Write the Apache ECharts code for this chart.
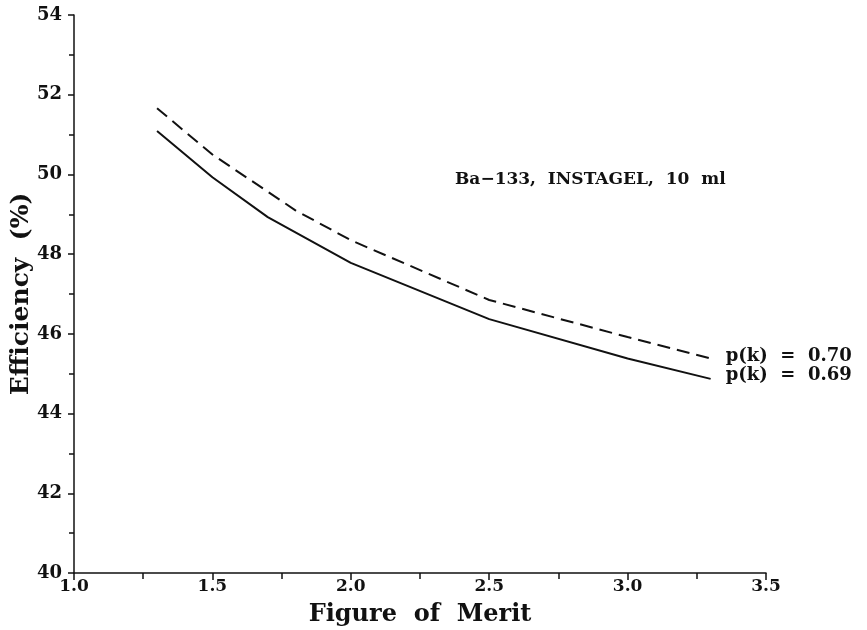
<!DOCTYPE html>
<html>
<head>
<meta charset="utf-8">
<script src="https://cdn.jsdelivr.net/npm/echarts@6/dist/echarts.min.js"></script>
<style>
  html, body { margin: 0; padding: 0; background: #fff; }
  #chart { width: 867px; height: 630px; }
</style>
</head>
<body>
<div id="chart"></div>
<script>
// values
const fomSolid = [1.3, 1.5, 1.7, 2.0, 2.5, 3.0, 3.3];
const effSolid = [51.09, 49.93, 48.93, 47.78, 46.37, 45.38, 44.87];
const fomDashed = [1.3, 1.5, 1.8, 2.0, 2.5, 3.0, 3.3];
const effDashed = [51.66, 50.5, 49.1, 48.35, 46.85, 45.92, 45.38];
const labelSolid = 'p(k)  =  0.69';
const labelDashed = 'p(k)  =  0.70';
const note = 'Ba\u2212133,  INSTAGEL,  10  ml';

const ink = '#111';
const font = "'DejaVu Serif', serif";

const pairs = (xs, ys) => xs.map((x, i) => [x, ys[i]]);

const chart = echarts.init(document.getElementById('chart'));
const option = {
  backgroundColor: '#fff',
  animation: false,
  grid: { left: 74, right: 101, top: 15, bottom: 57, containLabel: false, outerBoundsMode: 'none' },
  xAxis: {
    type: 'value',
    min: 1.0,
    max: 3.5,
    interval: 0.5,
    name: 'Figure  of  Merit',
    nameLocation: 'middle',
    nameGap: 30,
    nameMoveOverlap: false,
    nameTextStyle: { fontFamily: font, fontWeight: 'bold', fontSize: 24, color: ink },
    axisLine: { show: true, onZero: false, lineStyle: { color: ink, width: 1.5 } },
    axisTick: { show: true, length: 7, lineStyle: { color: ink, width: 1.5 } },
    minorTick: { show: true, splitNumber: 2, length: 6, lineStyle: { color: ink, width: 1.5 } },
    splitLine: { show: false },
    axisLabel: {
      margin: 5,
      fontFamily: font, fontWeight: 'bold', fontSize: 17, color: ink,
      formatter: v => v.toFixed(1)
    }
  },
  yAxis: {
    type: 'value',
    min: 40,
    max: 54,
    interval: 2,
    name: 'Efficiency  (%)',
    nameLocation: 'middle',
    nameGap: 40,
    nameMoveOverlap: false,
    nameTextStyle: { fontFamily: font, fontWeight: 'bold', fontSize: 25, color: ink },
    axisLine: { show: true, onZero: false, lineStyle: { color: ink, width: 1.5 } },
    axisTick: { show: true, length: 6, lineStyle: { color: ink, width: 1.5 } },
    minorTick: { show: true, splitNumber: 2, length: 5, lineStyle: { color: ink, width: 1.5 } },
    splitLine: { show: false },
    axisLabel: {
      margin: 12,
      fontFamily: font, fontWeight: 'bold', fontSize: 18, color: ink
    }
  },
  graphic: [{
    type: 'text',
    left: 455,
    top: 171,
    style: { text: note, fontFamily: font, fontWeight: 'bold', fontSize: 17, fill: ink }
  }],
  series: [
    {
      name: 'dashed',
      type: 'line',
      data: pairs(fomDashed, effDashed),
      symbol: 'none',
      lineStyle: { color: ink, width: 2, type: [13, 7] },
      endLabel: {
        show: true,
        formatter: labelDashed,
        distance: 15,
        offset: [0, -2],
        fontFamily: font, fontWeight: 'bold', fontSize: 18, color: ink
      }
    },
    {
      name: 'solid',
      type: 'line',
      data: pairs(fomSolid, effSolid),
      symbol: 'none',
      lineStyle: { color: ink, width: 2 },
      endLabel: {
        show: true,
        formatter: labelSolid,
        distance: 15,
        offset: [0, -4],
        fontFamily: font, fontWeight: 'bold', fontSize: 18, color: ink
      }
    }
  ]
};
chart.setOption(option);
</script>
</body>
</html>
